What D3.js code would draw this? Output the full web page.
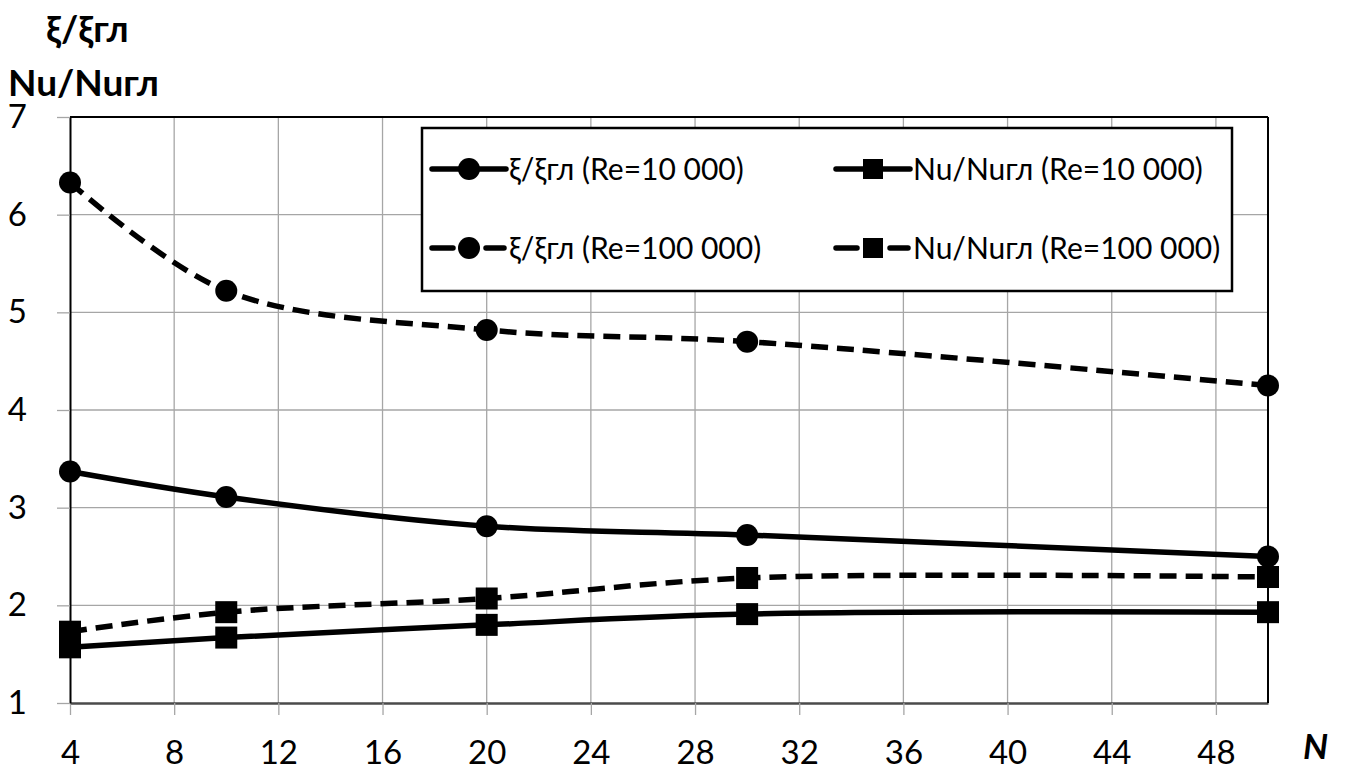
<!DOCTYPE html>
<html>
<head>
<meta charset="utf-8">
<script src="https://cdn.jsdelivr.net/npm/d3@7"></script>
<style>
  html, body { margin: 0; padding: 0; background: #fff; }
  svg { display: block; font-family: Lato, "Open Sans", sans-serif; }
</style>
</head>
<body>
<svg id="chart" width="1347" height="769"></svg>
<script>
// Number of elements N
const nValues = [4, 10, 20, 30, 50];

// Ratio values for each series
const xiRe10k   = [3.37, 3.11, 2.81, 2.72, 2.50];
const xiRe100k  = [6.33, 5.22, 4.82, 4.70, 4.25];
const nuRe10k   = [1.57, 1.67, 1.80, 1.91, 1.93];
const nuRe100k  = [1.73, 1.93, 2.07, 2.28, 2.29];

// Axis ticks
const xTicks = [4, 8, 12, 16, 20, 24, 28, 32, 36, 40, 44, 48];
const yTicks = [1, 2, 3, 4, 5, 6, 7];

const seriesNames = [
  "ξ/ξгл (Re=10 000)",
  "Nu/Nuгл (Re=10 000)",
  "ξ/ξгл (Re=100 000)",
  "Nu/Nuгл (Re=100 000)"
];

const series = [
  { name: seriesNames[0], values: xiRe10k,  marker: "circle", dashed: false },
  { name: seriesNames[1], values: nuRe10k,  marker: "square", dashed: false },
  { name: seriesNames[2], values: xiRe100k, marker: "circle", dashed: true },
  { name: seriesNames[3], values: nuRe100k, marker: "square", dashed: true }
];

const svg = d3.select("#chart");
const plotLeft = 70, plotTop = 117, plotRight = 1268, plotBottom = 703;

const x = d3.scaleLinear().domain([4, 50]).range([plotLeft, plotRight]);
const y = d3.scaleLinear().domain([1, 7]).range([plotBottom, plotTop]);

const gridColor = "#a6a6a6";
const fontStack = "Lato, 'Open Sans', sans-serif";

// Grid
const grid = svg.append("g");
grid.selectAll("line.v").data(xTicks.slice(1)).join("line")
  .attr("x1", d => x(d)).attr("x2", d => x(d))
  .attr("y1", plotTop).attr("y2", plotBottom)
  .attr("stroke", gridColor).attr("stroke-width", 1.3);
grid.selectAll("line.h").data(yTicks.slice(1, -1)).join("line")
  .attr("x1", plotLeft).attr("x2", plotRight)
  .attr("y1", d => y(d)).attr("y2", d => y(d))
  .attr("stroke", gridColor).attr("stroke-width", 1.3);

// Axes
const xAxis = d3.axisBottom(x).tickValues(xTicks).tickFormat(d3.format("d"))
  .tickSize(12).tickSizeOuter(0).tickPadding(26);
const gx = svg.append("g").attr("transform", `translate(0,${plotBottom})`).call(xAxis);
gx.select(".domain").attr("stroke", "#4a4a4a").attr("stroke-width", 2.5);
gx.selectAll(".tick line").attr("stroke", gridColor).attr("stroke-width", 1.3);
gx.selectAll(".tick text").attr("font-size", 33).attr("fill", "#000")
  .attr("font-family", fontStack);

const yAxis = d3.axisLeft(y).tickValues(yTicks).tickFormat(d3.format("d"))
  .tickSize(13).tickSizeOuter(0).tickPadding(30);
const gy = svg.append("g").attr("transform", `translate(${plotLeft},0)`).call(yAxis);
gy.select(".domain").attr("stroke", "#000").attr("stroke-width", 2);
gy.selectAll(".tick line").attr("stroke", gridColor).attr("stroke-width", 1.3);
gy.selectAll(".tick text").attr("font-size", 33).attr("fill", "#000")
  .attr("font-family", fontStack);

// Plot frame (top and right)
svg.append("line").attr("x1", plotLeft).attr("x2", plotRight).attr("y1", plotTop).attr("y2", plotTop)
  .attr("stroke", "#000").attr("stroke-width", 2);
svg.append("line").attr("x1", plotRight).attr("x2", plotRight).attr("y1", plotTop).attr("y2", plotBottom)
  .attr("stroke", "#000").attr("stroke-width", 2);

// Series lines
const line = d3.line()
  .x(d => x(d[0])).y(d => y(d[1]))
  .curve(d3.curveCatmullRom.alpha(0.5));

const gSeries = svg.append("g");
series.forEach(s => {
  const pts = nValues.map((n, i) => [n, s.values[i]]);
  gSeries.append("path")
    .attr("d", line(pts))
    .attr("fill", "none")
    .attr("stroke", "#000")
    .attr("stroke-width", 5.5)
    .attr("stroke-dasharray", s.dashed ? "17,9" : null);
});

// Markers
const markerSize = 22;
series.forEach(s => {
  const pts = nValues.map((n, i) => [n, s.values[i]]);
  if (s.marker === "circle") {
    gSeries.append("g").selectAll("circle").data(pts).join("circle")
      .attr("cx", d => x(d[0])).attr("cy", d => y(d[1]))
      .attr("r", markerSize / 2).attr("fill", "#000");
  } else {
    gSeries.append("g").selectAll("rect").data(pts).join("rect")
      .attr("x", d => x(d[0]) - markerSize / 2).attr("y", d => y(d[1]) - markerSize / 2)
      .attr("width", markerSize).attr("height", markerSize).attr("fill", "#000");
  }
});

// Legend
const legend = svg.append("g");
legend.append("rect")
  .attr("x", 422).attr("y", 128).attr("width", 810).attr("height", 163)
  .attr("fill", "#fff").attr("stroke", "#000").attr("stroke-width", 2.5);

const legendPos = [
  { x: 432, y: 169 }, { x: 836, y: 169 },
  { x: 432, y: 248 }, { x: 836, y: 248 }
];
series.forEach((s, i) => {
  const p = legendPos[i];
  const g = legend.append("g").attr("transform", `translate(${p.x},${p.y})`);
  const mx = 37;
  if (s.dashed) {
    g.append("path").attr("d", `M0,0H21M54,0H72`)
      .attr("stroke", "#000").attr("stroke-width", 5.5).attr("stroke-linecap", "round");
  } else {
    g.append("line").attr("x1", 0).attr("x2", 74).attr("y1", 0).attr("y2", 0)
      .attr("stroke", "#000").attr("stroke-width", 5.5).attr("stroke-linecap", "round");
  }
  if (s.marker === "circle") {
    g.append("circle").attr("cx", mx).attr("cy", 0).attr("r", 11).attr("fill", "#000");
  } else {
    g.append("rect").attr("x", mx - 10).attr("y", -10).attr("width", 20).attr("height", 20).attr("fill", "#000");
  }
  g.append("text").attr("x", 77).attr("y", 0).attr("dy", "0.35em")
    .attr("font-size", 30).attr("fill", "#000").text(s.name);
});

// Axis titles
svg.append("text").attr("x", 46).attr("y", 42)
  .attr("font-size", 37).attr("font-weight", "bold").text("ξ/ξгл");
svg.append("text").attr("x", 8).attr("y", 96)
  .attr("font-size", 37).attr("font-weight", "bold").text("Nu/Nuгл");
svg.append("text").attr("x", 1303).attr("y", 759)
  .attr("font-size", 35).attr("font-weight", "bold").attr("font-style", "italic").text("N");
</script>
</body>
</html>
